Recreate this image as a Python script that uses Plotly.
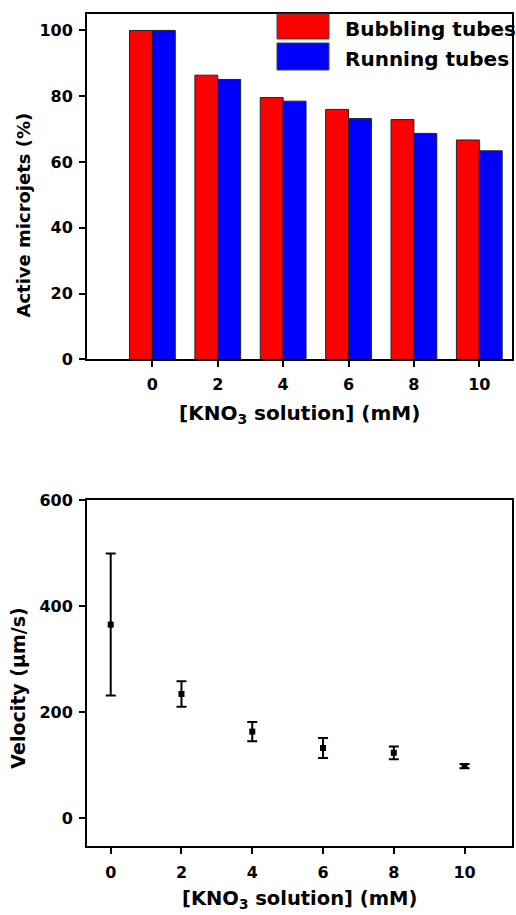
import plotly.graph_objects as go

# ---- data ----
conc = [0, 2, 4, 6, 8, 10]
bubbling = [100, 86.4, 79.6, 76.0, 72.9, 66.7]
running = [100, 85.1, 78.5, 73.2, 68.7, 63.4]

velocity = [365, 234, 163, 132, 123, 98]
velocity_err = [134, 24, 18, 19, 12, 4]

series_names = ["Bubbling tubes", "Running tubes"]
series_colors = ["#FF0000", "#0000FF"]

W, H = 516, 915
FONT = "DejaVu Sans"

# vertical compensation for the page rendering (observed offset / scale)
V_OFF, V_SCALE = 8.0, 0.979


def px_x(p):
    return p / W


def px_y(p):
    return 1 - ((p - V_OFF) / V_SCALE) / H


fig = go.Figure()

fig.add_trace(go.Bar(x=conc, y=bubbling, name=series_names[0],
                     marker=dict(color=series_colors[0], line=dict(color="#222", width=1)),
                     xaxis="x", yaxis="y", showlegend=False))
fig.add_trace(go.Bar(x=conc, y=running, name=series_names[1],
                     marker=dict(color=series_colors[1], line=dict(color="#222", width=1)),
                     xaxis="x", yaxis="y", showlegend=False))

fig.add_trace(go.Scatter(x=conc, y=velocity, mode="markers",
                         marker=dict(symbol="square", size=6, color="black"),
                         error_y=dict(type="data", array=velocity_err, color="black",
                                      thickness=2, width=5),
                         xaxis="x2", yaxis="y2", showlegend=False))

tickfont = dict(family=FONT, size=16, color="black", weight="bold")
axis_common = dict(showline=True, linecolor="black", linewidth=2, mirror=True,
                   ticks="outside", ticklen=6, tickwidth=2, tickcolor="black",
                   showgrid=False, zeroline=False, tickfont=tickfont)

xdom = [px_x(87), px_x(512)]

fig.update_layout(
    width=W, height=H,
    margin=dict(l=0, r=0, t=0, b=0),
    paper_bgcolor="white", plot_bgcolor="white",
    barmode="group", bargap=0.3, bargroupgap=0,
    xaxis=dict(domain=xdom, range=[-2, 11], tickvals=conc, anchor="y",
               ticklabelstandoff=3, **axis_common),
    yaxis=dict(domain=[px_y(358.3), px_y(13)], range=[0, 105],
               tickvals=[0, 20, 40, 60, 80, 100], anchor="x",
               ticklabelstandoff=3, **axis_common),
    xaxis2=dict(domain=xdom, range=[-0.67, 11.34], tickvals=conc, anchor="y2",
                ticklabelstandoff=5, **axis_common),
    yaxis2=dict(domain=[px_y(844.3), px_y(499)], range=[-52, 600],
                tickvals=[0, 200, 400, 600], anchor="x2",
                ticklabelstandoff=3, **axis_common),
)

# legend swatches and labels (drawn manually to match the large swatches)
sw_y = [(13, 38), (42, 69)]
txt_y = [28, 58]
for name, col, (y0, y1), ty in zip(series_names, series_colors, sw_y, txt_y):
    fig.add_shape(type="rect", xref="paper", yref="paper",
                  x0=px_x(277), x1=px_x(329), y0=px_y(y1), y1=px_y(y0),
                  fillcolor=col, line=dict(color="#444", width=1))
    fig.add_annotation(text=name, xref="paper", yref="paper",
                       x=px_x(343), y=px_y(ty), xanchor="left", yanchor="middle",
                       showarrow=False,
                       font=dict(family=FONT, size=20, color="black", weight="bold"))

title_font = dict(family=FONT, size=20, color="black", weight="bold")
xtitle = "[KNO<sub>3</sub> solution] (mM)"
fig.add_annotation(text=xtitle, xref="paper", yref="paper", x=px_x(299.5), y=px_y(398),
                   xanchor="center", yanchor="top", showarrow=False, font=title_font)
fig.add_annotation(text=xtitle, xref="paper", yref="paper", x=px_x(299.5), y=px_y(884),
                   xanchor="center", yanchor="top", showarrow=False,
                   font=dict(family=FONT, size=19.5, color="black", weight="bold"))

fig.add_annotation(text="Active microjets (%)", xref="paper", yref="paper",
                   x=px_x(24), y=px_y(214.5), xanchor="center", yanchor="middle",
                   textangle=-90, showarrow=False,
                   font=dict(family=FONT, size=18, color="black", weight="bold"))
fig.add_annotation(text="Velocity (μm/s)", xref="paper", yref="paper",
                   x=px_x(18), y=px_y(687.5), xanchor="center", yanchor="middle",
                   textangle=-90, showarrow=False,
                   font=dict(family=FONT, size=19, color="black", weight="bold"))

fig.write_html("out.html", config={"displayModeBar": False},
               post_script="document.body.style.margin='0';document.body.style.overflow='hidden';")
